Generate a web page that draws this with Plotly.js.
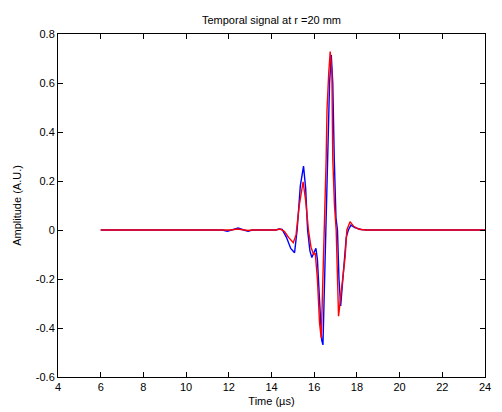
<!DOCTYPE html>
<html>
<head>
<meta charset="utf-8">
<script src="https://cdn.plot.ly/plotly-3.0.1.min.js"></script>
<style>
  html, body { margin: 0; padding: 0; background: #fff; }
  #chart { width: 502px; height: 412px; }
</style>
</head>
<body>
<div id="chart"></div>
<script>
// Measured signal (blue) and simulated signal (red), time in microseconds
const timeBlue = [6.0, 11.7, 11.93, 12.15, 12.44, 12.7, 12.9, 13.1, 14.2, 14.35, 14.5, 14.7, 14.9, 15.08, 15.2, 15.35, 15.5, 15.6, 15.69, 15.8, 15.89, 16.0, 16.08, 16.15, 16.25, 16.35, 16.41, 16.48, 16.56, 16.64, 16.72, 16.8, 16.87, 16.94, 17.02, 17.09, 17.16, 17.24, 17.35, 17.5, 17.6, 17.72, 17.9, 18.2, 18.5, 24.0];
const ampBlue  = [0, 0, -0.005, 0, 0.008, 0, -0.005, 0, 0, 0.004, 0.002, -0.03, -0.075, -0.093, 0.0, 0.18, 0.261, 0.17, 0.0, -0.085, -0.112, -0.09, -0.075, -0.12, -0.3, -0.45, -0.469, -0.25, 0.0, 0.29, 0.6, 0.714, 0.6, 0.29, 0.05, 0.0, -0.2, -0.31, -0.2, -0.03, 0.0, 0.02, 0.01, 0.002, 0, 0];

const timeRed = [6.0, 11.7, 11.9, 12.1, 12.4, 12.7, 12.9, 13.1, 14.2, 14.4, 14.6, 14.8, 15.02, 15.15, 15.3, 15.48, 15.6, 15.73, 15.85, 15.97, 16.05, 16.15, 16.25, 16.33, 16.4, 16.47, 16.56, 16.6, 16.68, 16.75, 16.83, 16.87, 16.95, 17.03, 17.14, 17.28, 17.45, 17.53, 17.68, 17.85, 18.1, 18.4, 24.0];
const ampRed   = [0, 0, -0.003, 0, 0.004, 0, -0.002, 0, 0, 0.004, -0.005, -0.03, -0.052, -0.02, 0.1, 0.197, 0.12, 0.0, -0.07, -0.1, -0.095, -0.2, -0.38, -0.442, -0.25, 0.0, 0.29, 0.49, 0.64, 0.728, 0.64, 0.29, 0.1, 0.0, -0.352, -0.25, -0.108, 0.0, 0.034, 0.015, 0.003, 0, 0];

// Axis ticks drawn with plain hyphens
const xTickVals = [4, 6, 8, 10, 12, 14, 16, 18, 20, 22, 24];
const yTickVals = [-0.6, -0.4, -0.2, 0, 0.2, 0.4, 0.6, 0.8];
const yTickText = ['-0.6', '-0.4', '-0.2', '0', '0.2', '0.4', '0.6', '0.8'];

const traces = [
  { x: timeBlue, y: ampBlue, type: 'scatter', mode: 'lines', line: { color: '#0000ff', width: 1.4 }, hoverinfo: 'skip' },
  { x: timeRed,  y: ampRed,  type: 'scatter', mode: 'lines', line: { color: '#ff0000', width: 1.4 }, hoverinfo: 'skip' }
];

const font = { family: 'Liberation Sans, Arial, sans-serif', size: 11, color: '#000' };

const axisCommon = {
  showgrid: false, zeroline: false, showline: true, linecolor: '#000', linewidth: 1,
  mirror: 'ticks', ticks: 'inside', ticklen: 5, tickcolor: '#000', tickwidth: 1,
  tickfont: font
};

const layout = {
  width: 502, height: 412,
  margin: { l: 58, r: 17, t: 34, b: 35 },
  paper_bgcolor: '#fff', plot_bgcolor: '#fff',
  showlegend: false,
  title: {
    text: 'Temporal signal at r =20 mm',
    font: font,
    x: 0.5, xref: 'paper', y: 0.952, yref: 'container', yanchor: 'middle'
  },
  xaxis: Object.assign({}, axisCommon, {
    range: [4, 24], tickmode: 'array', tickvals: xTickVals,
    title: { text: 'Time (µs)', standoff: 5, font: font }
  }),
  yaxis: Object.assign({}, axisCommon, {
    range: [-0.6, 0.8], tickmode: 'array', tickvals: yTickVals, ticktext: yTickText,
    title: { text: 'Amplitude (A.U.)', standoff: 11, font: font }
  })
};

Plotly.newPlot('chart', traces, layout, { staticPlot: true, displayModeBar: false });
</script>
</body>
</html>
